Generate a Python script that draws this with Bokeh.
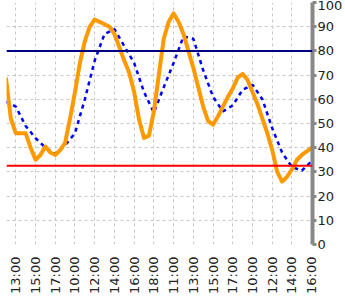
import math
from bokeh.plotting import figure
from bokeh.models import Range1d, FixedTicker, Span
from bokeh.embed import file_html
from bokeh.resources import INLINE

# Orange series, half-hour steps (hour index)
orange_h = [i * 0.5 for i in range(63)]
orange_v = [69, 52, 46, 46, 46, 40, 35, 37, 40.5, 38, 37, 39, 42, 52, 63, 75,
            84, 90, 93, 92, 91, 90, 87, 81.5, 76, 71, 63, 51.6, 44, 45, 55, 70,
            85, 92, 95.5, 92, 87, 80, 73, 65, 57, 51, 49.5, 53, 57, 61, 64.5, 69,
            70.5, 68, 63, 58, 52, 46, 39, 30, 26, 28, 31, 35, 37, 38.5, 40]

# Blue dotted series, hourly
blue_h = list(range(32))
blue_v = [59, 57, 49, 44, 40, 37.5, 41, 46, 60, 76, 87, 89, 82, 75, 63, 54.5,
          65, 75, 86, 85, 72, 61, 55, 57.5, 64, 66, 60, 48, 38, 32, 30.5, 34.5]

upper_limit = 80
lower_limit = 32.5

tick_pos = [1, 3, 5, 7, 9, 11, 13, 15, 17, 19, 21, 23, 25, 27, 29, 31]
tick_labels = ["13:00", "15:00", "17:00", "10:00", "12:00", "14:00", "16:00", "18:00",
               "11:00", "13:00", "15:00", "17:00", "10:00", "12:00", "14:00", "16:00"]
y_ticks = [0, 10, 20, 30, 40, 50, 60, 70, 80, 90, 100]

FONT = "DejaVu Sans"

p = figure(width=345, height=296, output_backend="svg", toolbar_location=None,
           x_range=Range1d(0.06, 31.08), y_range=Range1d(0, 100),
           y_axis_location="right", min_border_left=6, min_border_top=2,
           min_border_right=0, min_border_bottom=0)
p.outline_line_color = None
p.background_fill_color = "white"

# grids
for g in (p.xgrid, p.ygrid):
    g.grid_line_color = "#c8c8c8"
    g.grid_line_dash = "3 3"
    g.grid_line_width = 1
p.xgrid.ticker = FixedTicker(ticks=tick_pos)
p.ygrid.ticker = FixedTicker(ticks=y_ticks)

# x axis
xa = p.xaxis[0]
xa.ticker = FixedTicker(ticks=tick_pos)
xa.major_label_overrides = {t: l for t, l in zip(tick_pos, tick_labels)}
xa.major_label_orientation = math.pi / 2
xa.axis_line_color = None
xa.major_tick_line_color = None
xa.minor_tick_line_color = None
xa.major_label_text_font = FONT
xa.major_label_text_font_size = "13px"
xa.major_label_text_color = "#222222"
xa.major_label_standoff = 6

# y axis (right)
ya = p.yaxis[0]
ya.ticker = FixedTicker(ticks=y_ticks)
ya.axis_line_color = "#888888"
ya.axis_line_width = 4
ya.major_tick_line_color = "#888888"
ya.major_tick_line_width = 3
ya.major_tick_out = 4
ya.major_tick_in = 0
ya.minor_tick_line_color = None
ya.major_label_text_font = FONT
ya.major_label_text_font_size = "13px"
ya.major_label_text_color = "#222222"
ya.major_label_standoff = 1

# limit lines
p.add_layout(Span(location=upper_limit, dimension="width", line_color="#000080", line_width=2))
p.add_layout(Span(location=lower_limit, dimension="width", line_color="#FF0000", line_width=2))

# series
p.line(blue_h, blue_v, line_color="#0000FF", line_width=2.5, line_dash="4 4")
p.line(orange_h, orange_v, line_color="#FF9900", line_width=4, line_join="round")

open("out.html", "w").write(file_html(p, INLINE))
